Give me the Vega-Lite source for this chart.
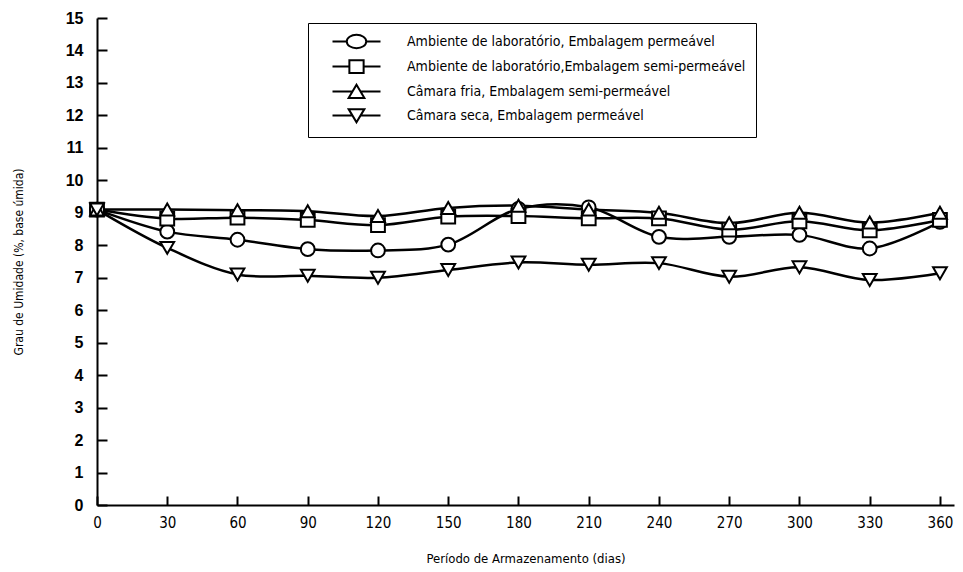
{
  "$schema": "https://vega.github.io/schema/vega-lite/v6.json",
  "width": 857,
  "height": 487,
  "autosize": "none",
  "padding": {"left": 97, "top": 18, "right": 9, "bottom": 67},
  "background": "white",
  "config": {"view": {"stroke": null}},
  "data": {"values": [
    {"dias": 0, "serie": "Ambiente de laboratório, Embalagem permeável", "umidade": 9.1},
    {"dias": 30, "serie": "Ambiente de laboratório, Embalagem permeável", "umidade": 8.42},
    {"dias": 60, "serie": "Ambiente de laboratório, Embalagem permeável", "umidade": 8.17},
    {"dias": 90, "serie": "Ambiente de laboratório, Embalagem permeável", "umidade": 7.88},
    {"dias": 120, "serie": "Ambiente de laboratório, Embalagem permeável", "umidade": 7.84},
    {"dias": 150, "serie": "Ambiente de laboratório, Embalagem permeável", "umidade": 8.02},
    {"dias": 180, "serie": "Ambiente de laboratório, Embalagem permeável", "umidade": 9.12},
    {"dias": 210, "serie": "Ambiente de laboratório, Embalagem permeável", "umidade": 9.17},
    {"dias": 240, "serie": "Ambiente de laboratório, Embalagem permeável", "umidade": 8.26},
    {"dias": 270, "serie": "Ambiente de laboratório, Embalagem permeável", "umidade": 8.26},
    {"dias": 300, "serie": "Ambiente de laboratório, Embalagem permeável", "umidade": 8.32},
    {"dias": 330, "serie": "Ambiente de laboratório, Embalagem permeável", "umidade": 7.9},
    {"dias": 360, "serie": "Ambiente de laboratório, Embalagem permeável", "umidade": 8.72},
    {"dias": 0, "serie": "Ambiente de laboratório,Embalagem semi-permeável", "umidade": 9.1},
    {"dias": 30, "serie": "Ambiente de laboratório,Embalagem semi-permeável", "umidade": 8.82},
    {"dias": 60, "serie": "Ambiente de laboratório,Embalagem semi-permeável", "umidade": 8.85},
    {"dias": 90, "serie": "Ambiente de laboratório,Embalagem semi-permeável", "umidade": 8.78},
    {"dias": 120, "serie": "Ambiente de laboratório,Embalagem semi-permeável", "umidade": 8.62},
    {"dias": 150, "serie": "Ambiente de laboratório,Embalagem semi-permeável", "umidade": 8.88},
    {"dias": 180, "serie": "Ambiente de laboratório,Embalagem semi-permeável", "umidade": 8.9},
    {"dias": 210, "serie": "Ambiente de laboratório,Embalagem semi-permeável", "umidade": 8.83},
    {"dias": 240, "serie": "Ambiente de laboratório,Embalagem semi-permeável", "umidade": 8.83},
    {"dias": 270, "serie": "Ambiente de laboratório,Embalagem semi-permeável", "umidade": 8.48},
    {"dias": 300, "serie": "Ambiente de laboratório,Embalagem semi-permeável", "umidade": 8.74},
    {"dias": 330, "serie": "Ambiente de laboratório,Embalagem semi-permeável", "umidade": 8.46},
    {"dias": 360, "serie": "Ambiente de laboratório,Embalagem semi-permeável", "umidade": 8.78},
    {"dias": 0, "serie": "Câmara fria, Embalagem semi-permeável", "umidade": 9.1},
    {"dias": 30, "serie": "Câmara fria, Embalagem semi-permeável", "umidade": 9.1},
    {"dias": 60, "serie": "Câmara fria, Embalagem semi-permeável", "umidade": 9.08},
    {"dias": 90, "serie": "Câmara fria, Embalagem semi-permeável", "umidade": 9.05},
    {"dias": 120, "serie": "Câmara fria, Embalagem semi-permeável", "umidade": 8.9},
    {"dias": 150, "serie": "Câmara fria, Embalagem semi-permeável", "umidade": 9.15},
    {"dias": 180, "serie": "Câmara fria, Embalagem semi-permeável", "umidade": 9.22},
    {"dias": 210, "serie": "Câmara fria, Embalagem semi-permeável", "umidade": 9.1},
    {"dias": 240, "serie": "Câmara fria, Embalagem semi-permeável", "umidade": 9.0},
    {"dias": 270, "serie": "Câmara fria, Embalagem semi-permeável", "umidade": 8.68},
    {"dias": 300, "serie": "Câmara fria, Embalagem semi-permeável", "umidade": 9.0},
    {"dias": 330, "serie": "Câmara fria, Embalagem semi-permeável", "umidade": 8.7},
    {"dias": 360, "serie": "Câmara fria, Embalagem semi-permeável", "umidade": 9.0},
    {"dias": 0, "serie": "Câmara seca, Embalagem permeável", "umidade": 9.1},
    {"dias": 30, "serie": "Câmara seca, Embalagem permeável", "umidade": 7.92},
    {"dias": 60, "serie": "Câmara seca, Embalagem permeável", "umidade": 7.1},
    {"dias": 90, "serie": "Câmara seca, Embalagem permeável", "umidade": 7.06},
    {"dias": 120, "serie": "Câmara seca, Embalagem permeável", "umidade": 7.0},
    {"dias": 150, "serie": "Câmara seca, Embalagem permeável", "umidade": 7.24},
    {"dias": 180, "serie": "Câmara seca, Embalagem permeável", "umidade": 7.47},
    {"dias": 210, "serie": "Câmara seca, Embalagem permeável", "umidade": 7.4},
    {"dias": 240, "serie": "Câmara seca, Embalagem permeável", "umidade": 7.45},
    {"dias": 270, "serie": "Câmara seca, Embalagem permeável", "umidade": 7.03},
    {"dias": 300, "serie": "Câmara seca, Embalagem permeável", "umidade": 7.32},
    {"dias": 330, "serie": "Câmara seca, Embalagem permeável", "umidade": 6.93},
    {"dias": 360, "serie": "Câmara seca, Embalagem permeável", "umidade": 7.14}
  ]},
  "encoding": {
    "x": {
      "field": "dias", "type": "quantitative",
      "scale": {"domain": [0, 366], "nice": false, "zero": false},
      "axis": {
        "values": [0, 30, 60, 90, 120, 150, 180, 210, 240, 270, 300, 330, 360],
        "title": "Período de Armazenamento (dias)",
        "grid": false,
        "domainColor": "black", "domainWidth": 2,
        "tickColor": "black", "tickWidth": 2, "tickSize": -9,
        "labelPadding": 19,
        "labelFont": "Liberation Sans Narrow, DejaVu Sans Condensed, sans-serif",
        "labelFontSize": 15, "labelColor": "black",
        "labelFlush": false, "labelOverlap": false,
        "titleFont": "Liberation Sans Narrow, DejaVu Sans Condensed, sans-serif",
        "titleFontSize": 13, "titleFontWeight": "normal", "titleColor": "black",
        "titlePadding": 22
      }
    },
    "y": {
      "field": "umidade", "type": "quantitative",
      "scale": {"domain": [0, 15], "nice": false},
      "axis": {
        "values": [0, 1, 2, 3, 4, 5, 6, 7, 8, 9, 10, 11, 12, 13, 14, 15],
        "title": "Grau de Umidade (%, base úmida)",
        "grid": false,
        "domainColor": "black", "domainWidth": 2,
        "tickColor": "black", "tickWidth": 2, "tickSize": -10,
        "labelPadding": 24,
        "labelFont": "Liberation Sans, Arial, sans-serif",
        "labelFontSize": 16, "labelFontWeight": "bold", "labelColor": "black",
        "labelFlush": false, "labelOverlap": false,
        "titleFont": "Liberation Sans Narrow, DejaVu Sans Condensed, sans-serif",
        "titleFontSize": 12, "titleFontWeight": "normal", "titleColor": "black",
        "titlePadding": 40
      }
    }
  },
  "layer": [
    {
      "mark": {"type": "line", "color": "black", "strokeWidth": 2.5, "interpolate": "catmull-rom"},
      "encoding": {"detail": {"field": "serie"}}
    },
    {
      "mark": {"type": "point", "filled": true, "fill": "white", "stroke": "black", "strokeWidth": 2, "size": 190, "opacity": 1},
      "encoding": {
        "shape": {
          "field": "serie", "type": "nominal",
          "scale": {
            "domain": ["Ambiente de laboratório, Embalagem permeável", "Ambiente de laboratório,Embalagem semi-permeável", "Câmara fria, Embalagem semi-permeável", "Câmara seca, Embalagem permeável"],
            "range": ["circle", "square", "triangle-up", "triangle-down"]
          },
          "legend": null
        }
      }
    },
    {
      "transform": [{"filter": "datum.dias < 0"}],
      "mark": {"type": "point", "filled": false, "color": "black", "strokeWidth": 2, "size": 225, "opacity": 1},
      "encoding": {
        "shape": {
          "field": "serie", "type": "nominal",
          "scale": {
            "domain": ["Ambiente de laboratório, Embalagem permeável", "Ambiente de laboratório,Embalagem semi-permeável", "Câmara fria, Embalagem semi-permeável", "Câmara seca, Embalagem permeável"],
            "range": [
              "M-3.2,0L-1.3,0M1.3,0L3.2,0M-1.3,0A1.3,0.9 0 1,0 1.3,0A1.3,0.9 0 1,0 -1.3,0Z",
              "M-3.2,0L-0.95,0M0.95,0L3.2,0M-0.95,-0.85L0.95,-0.85L0.95,0.85L-0.95,0.85Z",
              "M-3.2,0L-0.54,0M0.54,0L3.2,0M0,-0.9L1.05,0.85L-1.05,0.85Z",
              "M-3.2,0L-0.54,0M0.54,0L3.2,0M0,0.9L1.05,-0.85L-1.05,-0.85Z"
            ]
          },
          "legend": {
            "title": null,
            "orient": "none",
            "legendX": 211,
            "legendY": 5,
            "padding": 10,
            "strokeColor": "black",
            "fillColor": "white",
            "symbolSize": 225,
            "symbolOffset": 30,
            "symbolStrokeColor": "black",
            "symbolStrokeWidth": 2,
            "labelOffset": 42,
            "labelFont": "Liberation Sans Narrow, DejaVu Sans Condensed, sans-serif",
            "labelFontSize": 14,
            "labelColor": "black",
            "labelLimit": 500,
            "rowPadding": 3
          }
        }
      }
    }
  ],
  "resolve": {"scale": {"shape": "independent"}, "legend": {"shape": "independent"}}
}
